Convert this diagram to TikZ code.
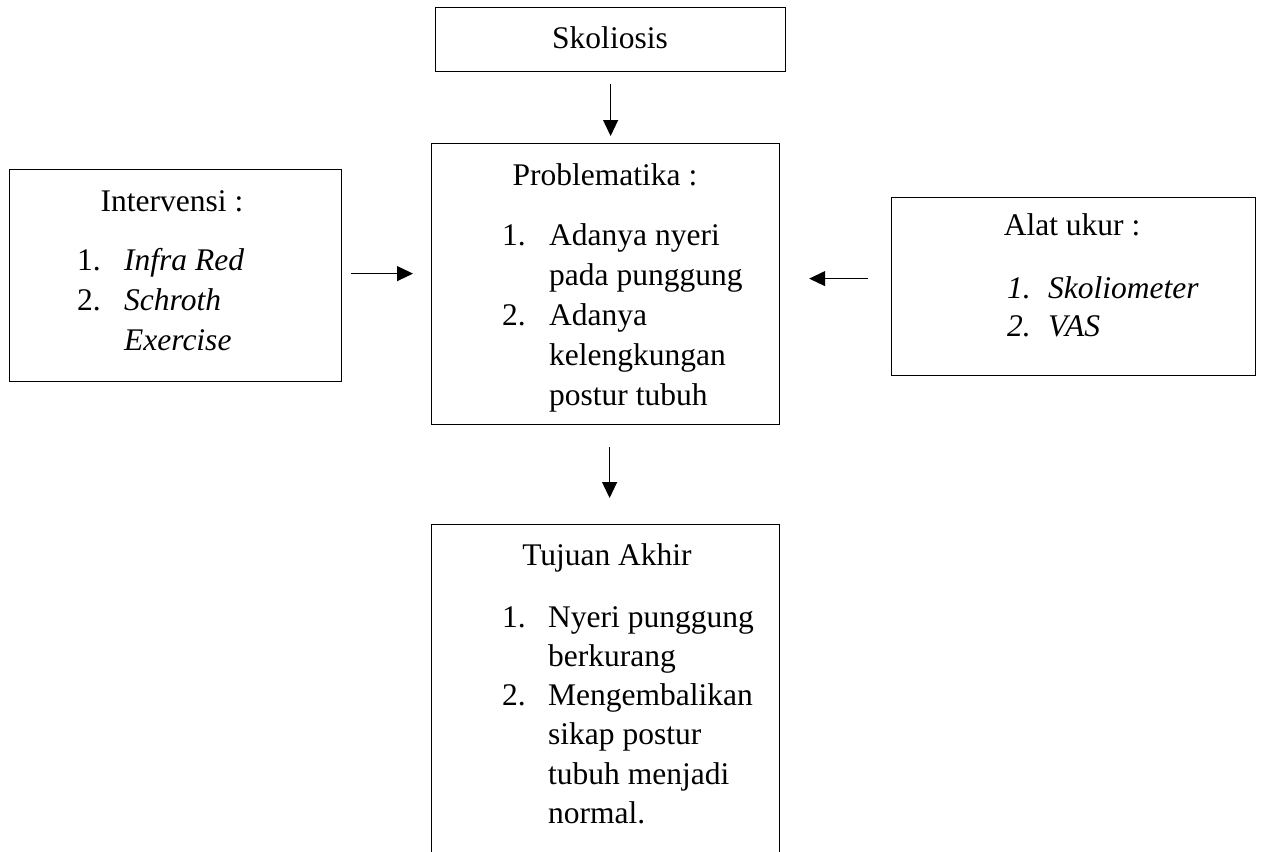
\documentclass[tikz,border=0pt]{standalone}
\usepackage{fontspec}
\setmainfont{Liberation Serif}
\usetikzlibrary{arrows.meta}
\newcommand\mylist[3]{\fontsize{31.5}{#1}\selectfont\begin{tabular}[t]{@{}p{#2}@{}l@{}}#3\end{tabular}}
\begin{document}
\begin{tikzpicture}[x=1pt,y=-1pt,
  box/.style={draw, line width=1.2pt, rectangle, inner sep=0pt, anchor=north west},
  hd/.style={anchor=base, inner sep=0pt, font=\fontsize{31.5}{40}\selectfont},
  lst/.style={anchor=base west, inner sep=0pt},
  arr/.style={-{Triangle[length=16pt,width=15pt]}, line width=1.2pt}]
\useasboundingbox (0,0) rectangle (1262,852);
\clip (0,0) rectangle (1262,852);
% boxes
\node[box, minimum width=350pt, minimum height=64pt] (sk) at (435,7) {};
\node[box, minimum width=348pt, minimum height=281pt] (pr) at (431,143) {};
\node[box, minimum width=332pt, minimum height=212pt] (iv) at (9,169) {};
\node[box, minimum width=364pt, minimum height=178pt] (al) at (891,197) {};
\node[box, minimum width=348pt, minimum height=360pt] (tu) at (431,524) {};
% texts
\node[hd] (skt) at (610,48) {Skoliosis};
\node[hd] (prt) at (605,185) {Problematika :};
\node[lst] (prl) at (502,245) {\mylist{40pt}{47pt}{1. & Adanya nyeri\\ & pada punggung\\ 2. & Adanya\\ & kelengkungan\\ & postur tubuh}};
\node[hd] (ivt) at (172,211) {Intervensi :};
\node[lst] (ivl) at (77,270) {\mylist{40pt}{47pt}{1. & \textit{Infra Red}\\ 2. & \textit{Schroth}\\ & \textit{Exercise}}};
\node[hd] (alt) at (1072,235) {Alat ukur :};
\node[lst] (all) at (1007,298) {\mylist{38pt}{41pt}{\textit{1.} & \textit{Skoliometer}\\ \textit{2.} & \textit{VAS}}};
\node[hd] (tut) at (607,565) {Tujuan Akhir};
\node[lst] (tul) at (502,627) {\mylist{39.3pt}{46pt}{1. & Nyeri punggung\\ & berkurang\\ 2. & Mengembalikan\\ & sikap postur\\ & tubuh menjadi\\ & normal.}};
% connectors
\draw[arr, shorten <=12pt, shorten >=7pt] (sk.south) -- (sk.south |- pr.north);
\draw[arr, shorten <=22pt, shorten >=26pt] ([xshift=4pt]pr.south) -- ([xshift=4pt]tu.north);
\coordinate (ivout) at ([yshift=2pt]iv.east);
\draw[arr, shorten <=9pt, shorten >=18pt] (ivout) -- (ivout -| pr.west);
\coordinate (alout) at ([yshift=8pt]al.west);
\draw[arr, shorten <=23pt, shorten >=29pt] (alout) -- (alout -| pr.east);
\end{tikzpicture}
\end{document}
